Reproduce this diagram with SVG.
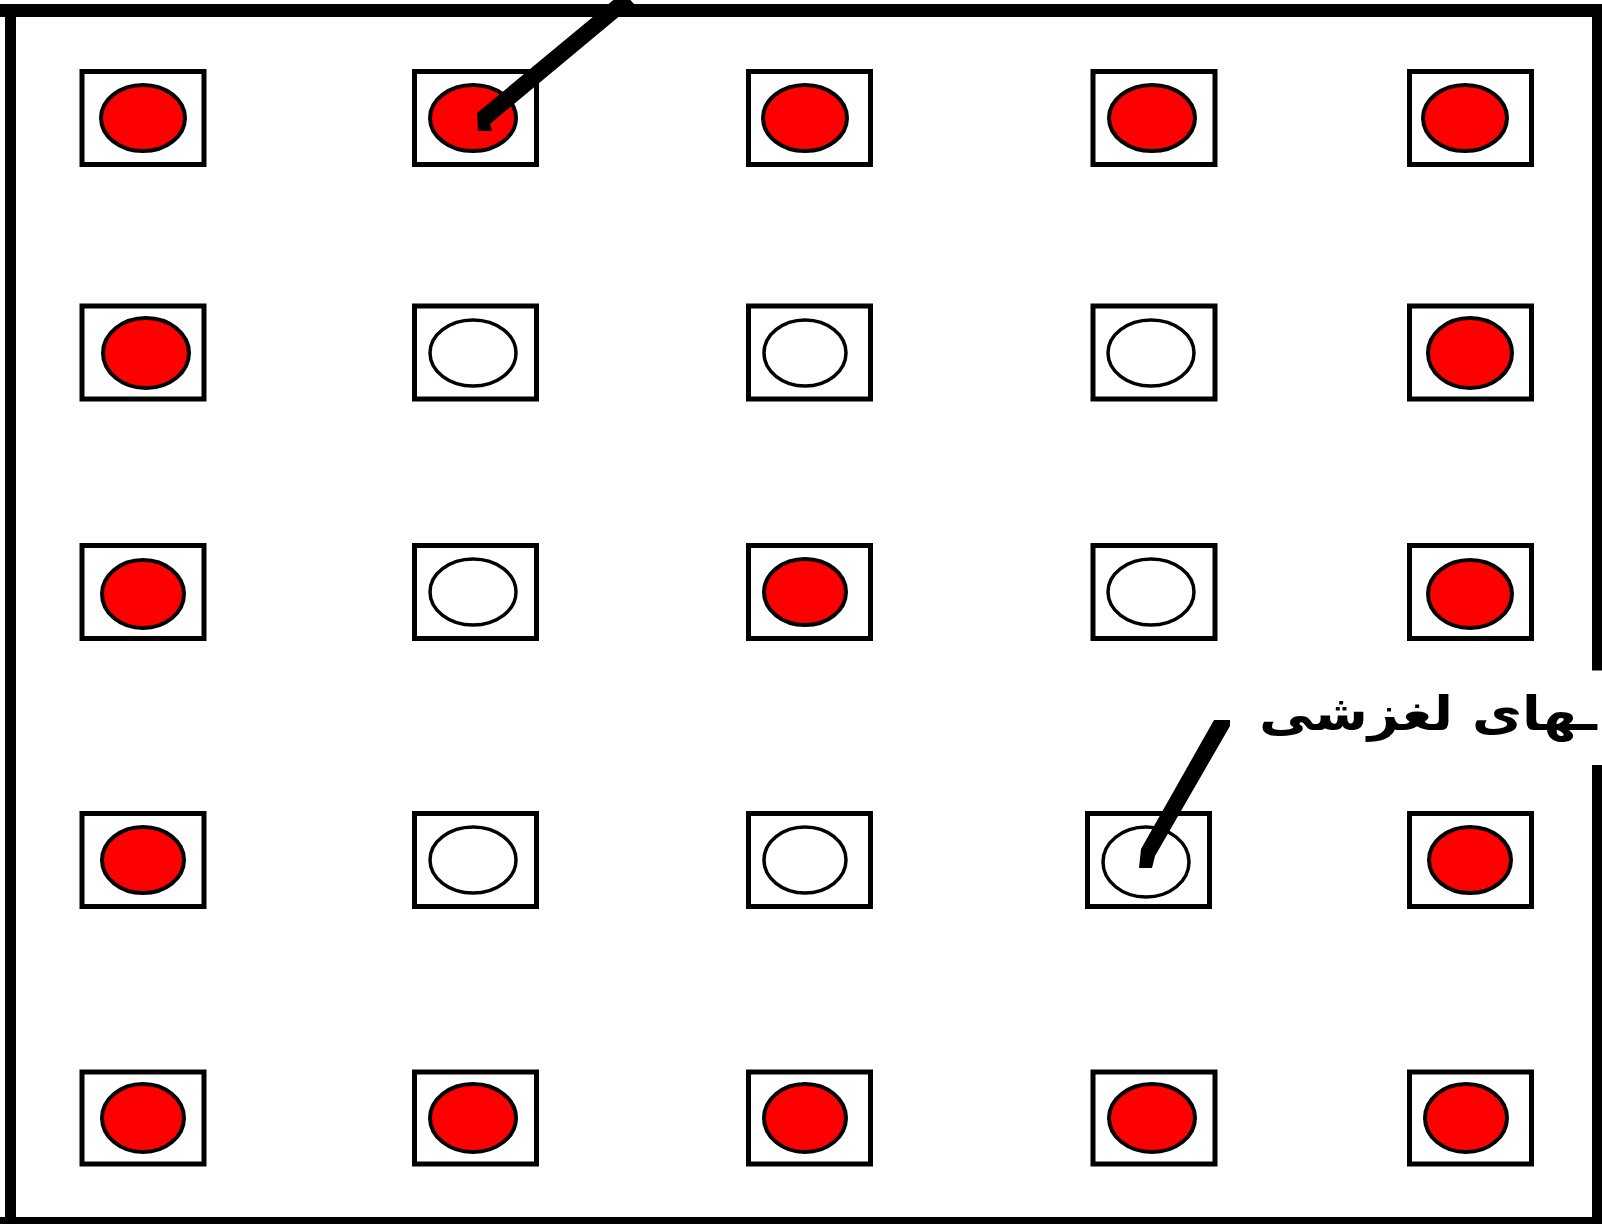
<svg xmlns="http://www.w3.org/2000/svg" width="1602" height="1224" viewBox="0 0 1602 1224">
<style>
.box{fill:#fff;stroke:#000;stroke-width:5}
.on{fill:#ff0000;stroke:#000;stroke-width:4}
.off{fill:none;stroke:#000;stroke-width:3.5}
.frame{stroke:#000;fill:none}
.lbl{font-family:"DejaVu Sans",sans-serif;font-size:48px;font-weight:bold;fill:#000}
.arr{fill:#000;stroke:none}
</style>
<rect width="1602" height="1224" fill="#fff"/>
<g id="frame">
<path class="frame" stroke-width="13" d="M0 10.5H1602"/>
<path class="frame" stroke-width="11" d="M10.5 4V1224"/>
<path class="frame" stroke-width="12" d="M0 1223H1602M1598 4V670.5M1598 765V1224"/>
</g>
<g id="r1c1"><rect class="box" x="82" y="71.5" width="122" height="93"/><ellipse class="on" cx="143" cy="118" rx="42" ry="33"/></g>
<g id="r1c2"><rect class="box" x="414.5" y="71.5" width="122" height="93"/><ellipse class="on" cx="473" cy="118" rx="43" ry="33"/></g>
<g id="r1c3"><rect class="box" x="748.5" y="71.5" width="122" height="93"/><ellipse class="on" cx="805" cy="118" rx="42" ry="33"/></g>
<g id="r1c4"><rect class="box" x="1093" y="71.5" width="122" height="93"/><ellipse class="on" cx="1152" cy="118" rx="43" ry="33"/></g>
<g id="r1c5"><rect class="box" x="1409.5" y="71.5" width="122" height="93"/><ellipse class="on" cx="1465" cy="118" rx="42" ry="33"/></g>

<g id="r2c1"><rect class="box" x="82" y="306" width="122" height="93"/><ellipse class="on" cx="146" cy="353" rx="43" ry="35"/></g>
<g id="r2c2"><rect class="box" x="414.5" y="306" width="122" height="93"/><ellipse class="off" cx="473" cy="353" rx="43" ry="33"/></g>
<g id="r2c3"><rect class="box" x="748.5" y="306" width="122" height="93"/><ellipse class="off" cx="805" cy="353" rx="41" ry="33"/></g>
<g id="r2c4"><rect class="box" x="1093" y="306" width="122" height="93"/><ellipse class="off" cx="1151" cy="353" rx="43" ry="33"/></g>
<g id="r2c5"><rect class="box" x="1409.5" y="306" width="122" height="93"/><ellipse class="on" cx="1470" cy="353" rx="42" ry="35"/></g>

<g id="r3c1"><rect class="box" x="82" y="545.5" width="122" height="93"/><ellipse class="on" cx="143" cy="594" rx="41" ry="34"/></g>
<g id="r3c2"><rect class="box" x="414.5" y="545.5" width="122" height="93"/><ellipse class="off" cx="473" cy="592" rx="43" ry="33"/></g>
<g id="r3c3"><rect class="box" x="748.5" y="545.5" width="122" height="93"/><ellipse class="on" cx="805" cy="592" rx="41" ry="33"/></g>
<g id="r3c4"><rect class="box" x="1093" y="545.5" width="122" height="93"/><ellipse class="off" cx="1151" cy="592" rx="43" ry="33"/></g>
<g id="r3c5"><rect class="box" x="1409.5" y="545.5" width="122" height="93"/><ellipse class="on" cx="1470" cy="594" rx="42" ry="34"/></g>

<g id="r4c1"><rect class="box" x="82" y="813.5" width="122" height="93"/><ellipse class="on" cx="143" cy="860" rx="41" ry="33"/></g>
<g id="r4c2"><rect class="box" x="414.5" y="813.5" width="122" height="93"/><ellipse class="off" cx="473" cy="860" rx="43" ry="33"/></g>
<g id="r4c3"><rect class="box" x="748.5" y="813.5" width="122" height="93"/><ellipse class="off" cx="805" cy="860" rx="41" ry="33"/></g>
<g id="r4c4"><rect class="box" x="1087.5" y="813.5" width="122" height="93"/><ellipse class="off" cx="1146" cy="862" rx="43" ry="35"/></g>
<g id="r4c5"><rect class="box" x="1409.5" y="813.5" width="122" height="93"/><ellipse class="on" cx="1470" cy="860" rx="41" ry="33"/></g>

<g id="r5c1"><rect class="box" x="82" y="1072" width="122" height="92"/><ellipse class="on" cx="143" cy="1118" rx="41" ry="34"/></g>
<g id="r5c2"><rect class="box" x="414.5" y="1072" width="122" height="92"/><ellipse class="on" cx="473" cy="1118" rx="43" ry="34"/></g>
<g id="r5c3"><rect class="box" x="748.5" y="1072" width="122" height="92"/><ellipse class="on" cx="805" cy="1118" rx="41" ry="34"/></g>
<g id="r5c4"><rect class="box" x="1093" y="1072" width="122" height="92"/><ellipse class="on" cx="1152" cy="1118" rx="43" ry="34"/></g>
<g id="r5c5"><rect class="box" x="1409.5" y="1072" width="122" height="92"/><ellipse class="on" cx="1466" cy="1118" rx="41" ry="34"/></g>

<g id="connectors">
<polygon class="arr" points="477,113 623,-8 634,4 490,124 492,131 478,131"/>
<polygon class="arr" points="1141,849 1214,720 1230,720 1230,726 1155,856 1152,868 1139,868"/>
</g>
<g id="label">
<text class="lbl" x="1259" y="730" textLength="338" lengthAdjust="spacingAndGlyphs">ـهای لغزشی</text>
</g>
</svg>
